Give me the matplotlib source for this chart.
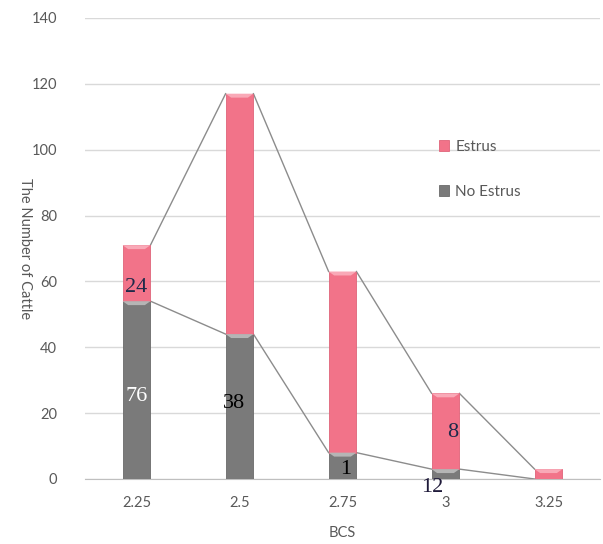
import matplotlib.pyplot as plt
import numpy as np

plt.rcParams['font.family'] = ['Lato', 'DejaVu Sans']

# BCS groups and cattle counts
bcs = ['2.25', '2.5', '2.75', '3', '3.25']
no_estrus = [54, 44, 8, 3, 0]
estrus = [17, 73, 55, 23, 3]

# percentage labels as printed on the bars
labels = ['24', '76', '38', '1', '12', '8']

pink = '#F27389'
grey = '#7A7A7A'
txt = '#595959'

x = np.arange(len(bcs))
w = 0.27
total = np.array(no_estrus) + np.array(estrus)

fig = plt.figure(figsize=(6.03, 5.44), dpi=100)
ax = fig.add_axes([0.141, 0.1195, 0.854, 0.8475])

ax.bar(x, no_estrus, w, color=grey, edgecolor='#6A6A6A', lw=0.6, zorder=3, label='No Estrus')
ax.bar(x, estrus, w, bottom=no_estrus, color=pink, edgecolor='#E0647A', lw=0.6, zorder=3,
       label='Estrus')

# light bevel cap on top of each segment
for xi, lo, hi, cap in [(a, 0, b, '#B5B5B5') for a, b in zip(x, no_estrus)] + \
        [(a, b, b + c, '#F9A9B7') for a, b, c in zip(x, no_estrus, estrus)]:
    if hi - lo < 1.5:
        continue
    ax.fill([xi - w / 2, xi + w / 2, xi + w * 0.3, xi - w * 0.3],
            [hi, hi, hi - 1.2, hi - 1.2], color=cap, lw=0, zorder=4)

# series lines between the bars
for i in range(len(x) - 1):
    ax.plot([x[i] + w / 2, x[i + 1] - w / 2], [total[i], total[i + 1]],
            color='#8C8C8C', lw=1, zorder=2)
    ax.plot([x[i] + w / 2, x[i + 1] - w / 2], [no_estrus[i], no_estrus[i + 1]],
            color='#8C8C8C', lw=1, zorder=2)

ax.set_xlim(-0.5, len(bcs) - 0.5)
ax.set_ylim(0, 140)
ax.set_yticks(range(0, 141, 20))
ax.set_xticks(x)
ax.set_xticklabels(bcs)
ax.grid(axis='y', color='#D9D9D9', lw=1, zorder=0)
for s in ['top', 'right', 'left']:
    ax.spines[s].set_visible(False)
ax.spines['bottom'].set_color('#BFBFBF')
ax.tick_params(axis='both', length=0, colors=txt, labelsize=10.5, pad=12)
ax.tick_params(axis='y', pad=20)

ax.set_xlabel('BCS', color=txt, fontsize=10.5, labelpad=12)
ax.set_ylabel('The Number of Cattle', color=txt, fontsize=10.5, rotation=270,
              va='bottom')
ax.yaxis.set_label_coords(-0.13, 0.5)

# data labels
serif = dict(family='Liberation Serif', fontsize=16)
ax.text(0, 58, labels[0], color='#1F2A4A', ha='center', va='center', **serif)
ax.text(0, 25, labels[1], color='white', ha='center', va='center', **serif)
ax.text(0.95, 23, labels[2], color='black', ha='center', va='center', **serif)
ax.text(2.03, 3, labels[3], color='black', ha='center', va='center', **serif)
ax.text(2.87, -2.5, labels[4], color='#1F1A3A', ha='center', va='center', **serif)
ax.text(3.07, 14, labels[5], color='#1F2A4A', ha='center', va='center', **serif)

h, l = ax.get_legend_handles_labels()
ax.legend(h[::-1], l[::-1], loc='upper left', bbox_to_anchor=(0.66, 0.765),
          frameon=False, fontsize=11, labelcolor=txt, handlelength=0.7,
          handleheight=0.7, handletextpad=0.4, labelspacing=2.0)

fig.savefig('out.png', dpi=100)
